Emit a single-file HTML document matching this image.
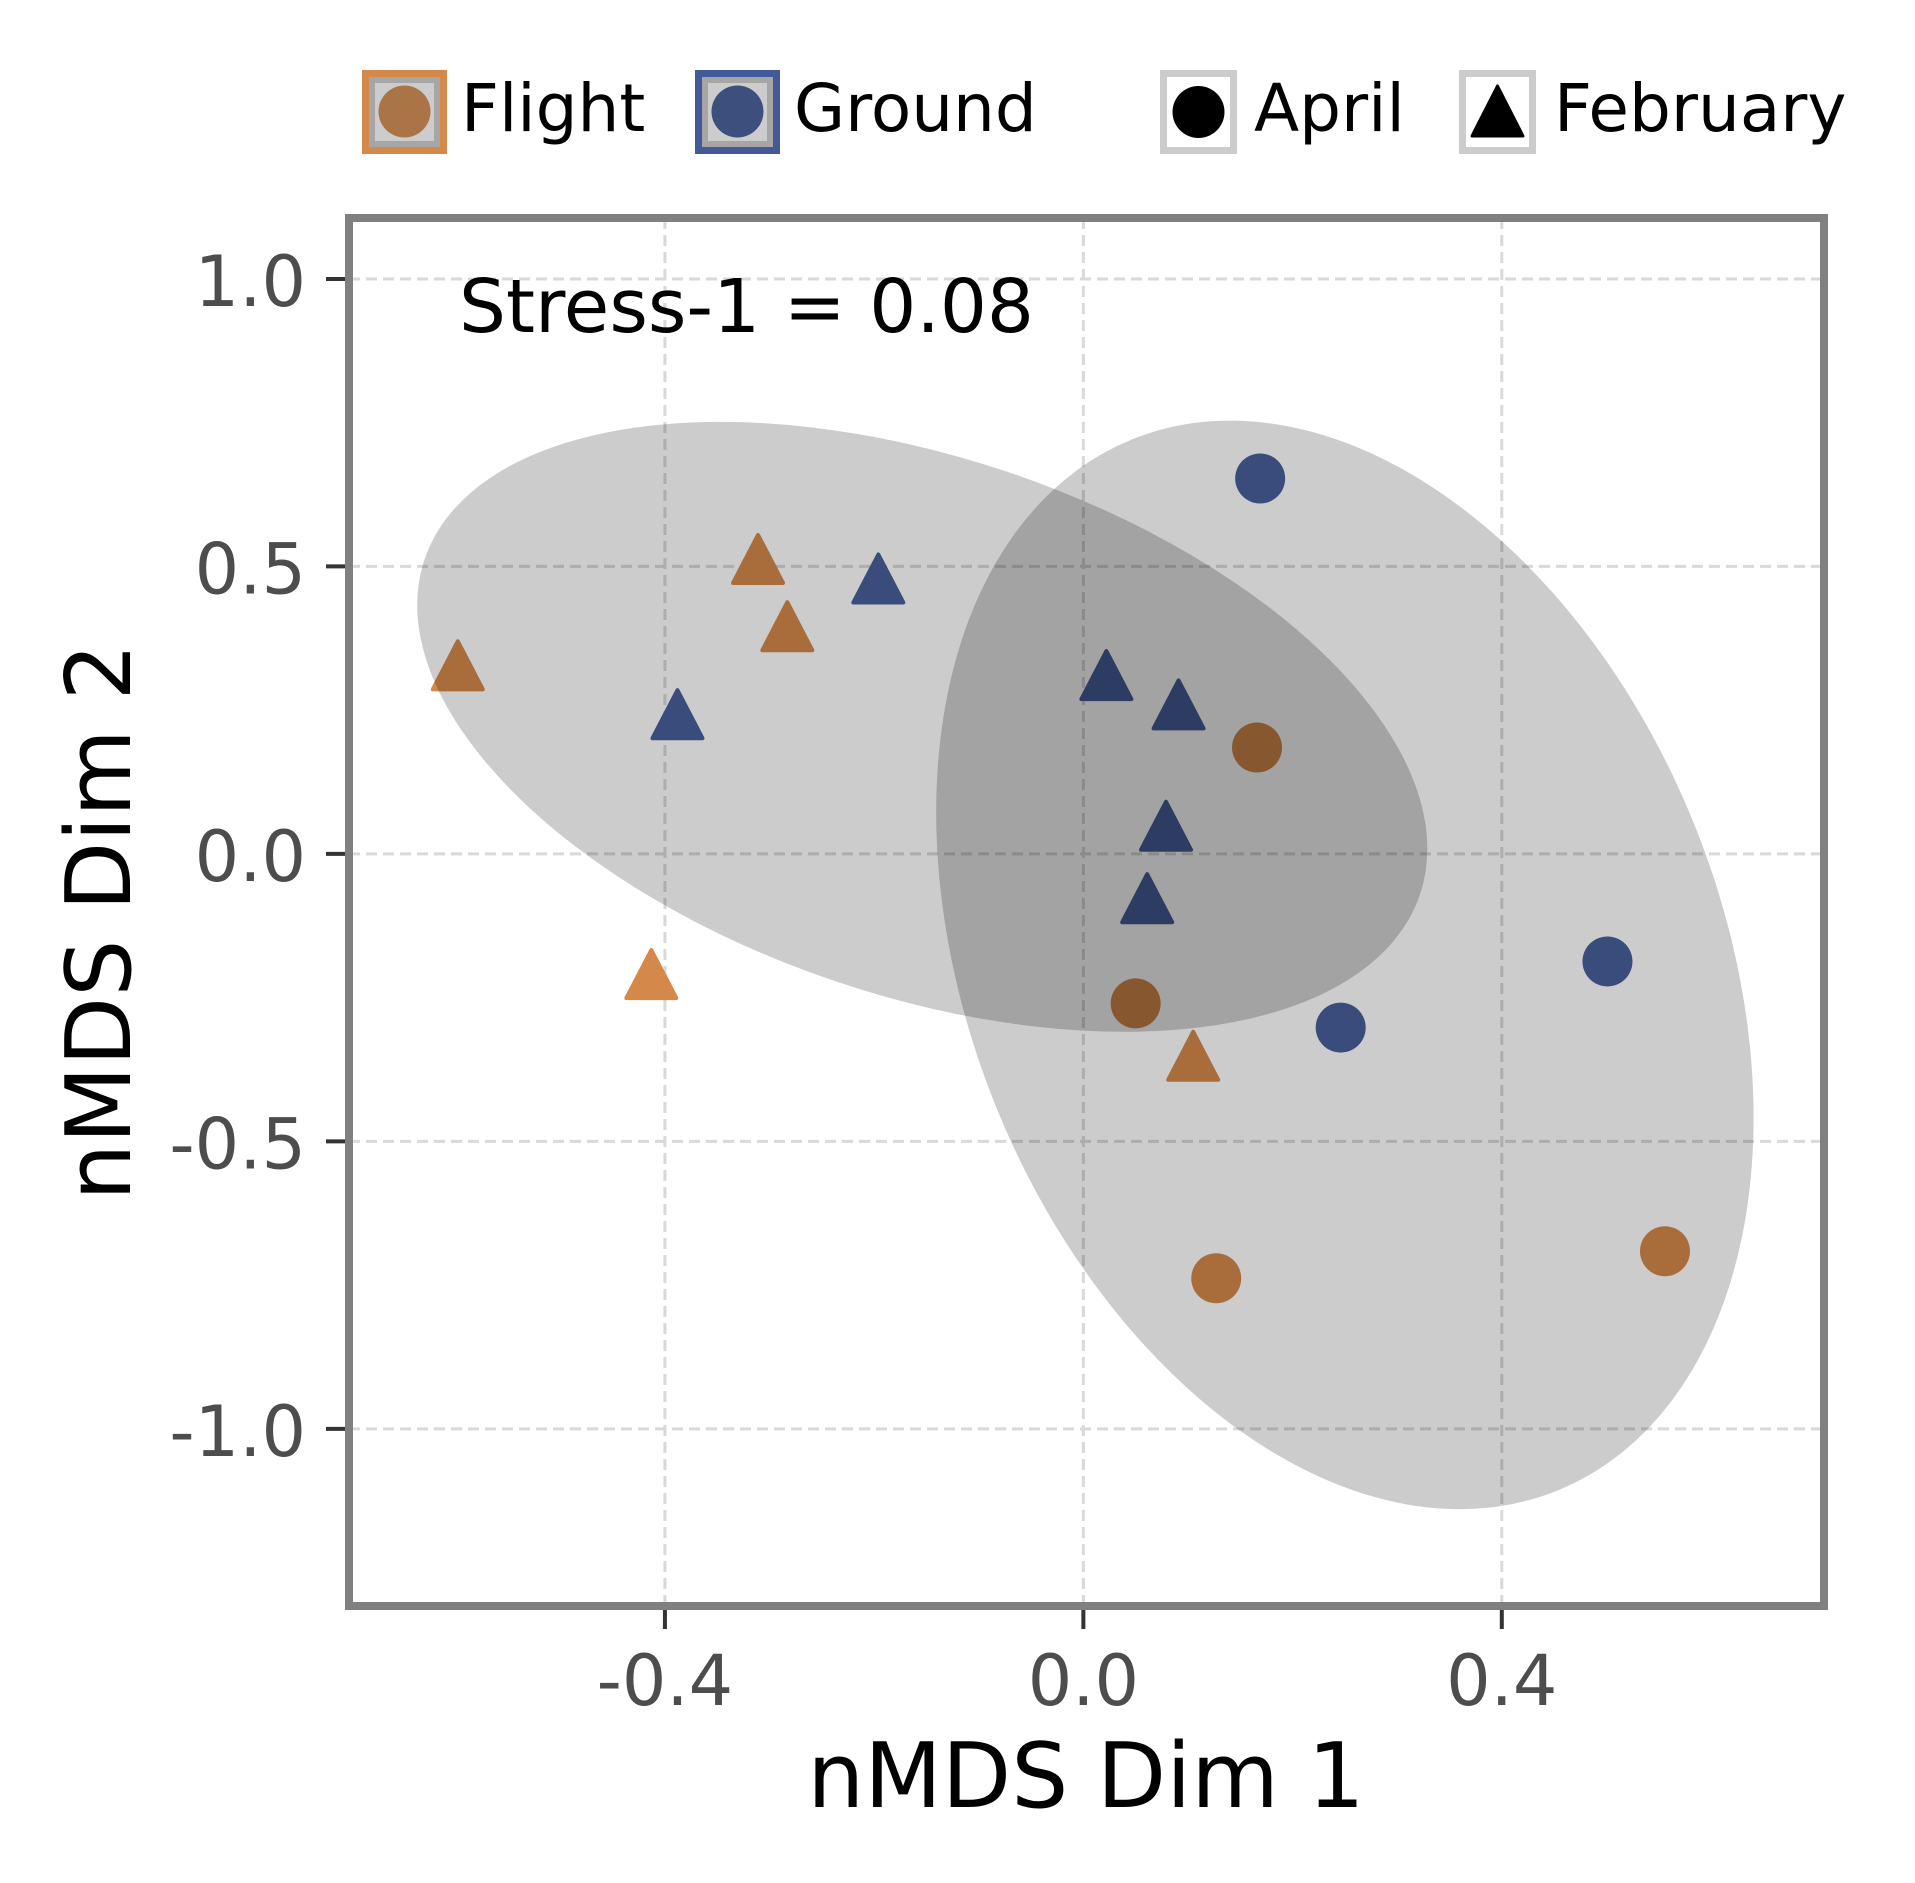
<!DOCTYPE html>
<html><head><meta charset="utf-8">
<style>
html,body{margin:0;padding:0;background:#fff;}
svg{display:block;font-family:"DejaVu Sans","Liberation Sans",sans-serif;}
</style></head>
<body>
<svg id="chart" width="1915" height="1883" viewBox="0 0 1915 1883" xmlns="http://www.w3.org/2000/svg">
  <rect x="0" y="0" width="1915" height="1883" fill="#fff"/>
  <g id="legend">
    <g>
      <rect x="365.5" y="73.5" width="78" height="77" fill="#a6a6a6" stroke="#d4894a" stroke-width="7"/>
      <rect x="375" y="83" width="59" height="58" fill="#cccccc"/>
      <circle cx="404.5" cy="111.5" r="26" fill="#ab7446"/>
      <text x="461" y="131" font-size="66" fill="#000">Flight</text>
    </g>
    <g>
      <rect x="698.5" y="73.5" width="78" height="77" fill="#a6a6a6" stroke="#435a98" stroke-width="7"/>
      <rect x="708" y="83" width="59" height="58" fill="#cccccc"/>
      <circle cx="737.5" cy="111.5" r="26" fill="#3d4f7d"/>
      <text x="794" y="131" font-size="66" fill="#000">Ground</text>
    </g>
    <g>
      <rect x="1163.5" y="73.5" width="70" height="77" fill="#fff" stroke="#cccccc" stroke-width="7"/>
      <circle cx="1198.5" cy="112" r="26" fill="#000"/>
      <text x="1254" y="131" font-size="66" fill="#000">April</text>
    </g>
    <g>
      <rect x="1462.5" y="73.5" width="70" height="77" fill="#fff" stroke="#cccccc" stroke-width="7"/>
      <path d="M1497.5 86 L1523 136 L1472 136 Z" fill="#000" stroke="#000" stroke-width="3" stroke-linejoin="round"/>
      <text x="1554" y="131" font-size="66" fill="#000">February</text>
    </g>
  </g>
  <g id="grid"></g>
  <g id="points"></g>
  <g id="ellipses"></g>
  <g id="axes"></g>
  <text x="459" y="332" font-size="74" fill="#000">Stress-1 = 0.08</text>
  <text x="1086" y="1807" font-size="90" text-anchor="middle" fill="#000">nMDS Dim 1</text>
  <text x="0" y="0" font-size="90" text-anchor="middle" fill="#000" transform="translate(130,922) rotate(-90)">nMDS Dim 2</text>
</svg>
<script>
const xTicks = [-0.4, 0.0, 0.4];
const xTickLabels = ["-0.4", "0.0", "0.4"];
const yTicks = [1.0, 0.5, 0.0, -0.5, -1.0];
const yTickLabels = ["1.0", "0.5", "0.0", "-0.5", "-1.0"];
const xDomain = [-0.702, 0.708];
const yDomain = [-1.308, 1.106];

const pointX = [-0.598, -0.311, -0.283, -0.413, 0.105,
                -0.388, -0.196, 0.022, 0.091, 0.079, 0.061,
                0.169, 0.501, 0.246,
                0.166, 0.050, 0.127, 0.556];
const pointY = [0.328, 0.513, 0.396, -0.209, -0.351,
                0.243, 0.479, 0.311, 0.260, 0.049, -0.077,
                0.653, -0.187, -0.302,
                0.185, -0.260, -0.738, -0.691];
const pointGroup = ["Flight","Flight","Flight","Flight","Flight",
                    "Ground","Ground","Ground","Ground","Ground","Ground",
                    "Ground","Ground","Ground",
                    "Flight","Flight","Flight","Flight"];
const pointMonth = ["February","February","February","February","February",
                    "February","February","February","February","February","February",
                    "April","April","April",
                    "April","April","April","April"];

const ellipseGroup = ["Flight", "Ground"];
const ellipseCX = [-0.154, 0.250];
const ellipseCY = [0.221, -0.193];
const ellipseMajor = [0.502, 0.542];
const ellipseMinor = [0.257, 0.360];
const ellipseAngle = [18.6, 68];

const PL = 349, PR = 1824, PT = 218, PB = 1606;
const xScale = v => PL + (v - xDomain[0]) / (xDomain[1] - xDomain[0]) * (PR - PL);
const yScale = v => PB - (v - yDomain[0]) / (yDomain[1] - yDomain[0]) * (PB - PT);
const pxPerX = (PR - PL) / (xDomain[1] - xDomain[0]);
const colors = {Flight: "#d4894a", Ground: "#48609c"};
const NS = "http://www.w3.org/2000/svg";
function mk(tag, attrs, parent) {
  const e = document.createElementNS(NS, tag);
  for (const k in attrs) e.setAttribute(k, attrs[k]);
  parent.appendChild(e);
  return e;
}
const grid = document.getElementById('grid');
const axes = document.getElementById('axes');
const pts = document.getElementById('points');
const ell = document.getElementById('ellipses');

xTicks.forEach((t, i) => {
  const x = xScale(t);
  const g = mk('line', {x1: x, x2: x, y1: PT, y2: PB, stroke: '#d9d9d9', 'stroke-width': 3, 'stroke-dasharray': '11 6'}, grid);
  
  
  const tk = mk('line', {x1: x, x2: x, y1: PB, y2: PB + 23, stroke: '#333', 'stroke-width': 4}, axes);
  
  
  const lb = mk('text', {x: x, y: 1705, 'font-size': 70, 'text-anchor': 'middle', fill: '#4d4d4d'}, axes);
  lb.textContent = xTickLabels[i];
  
  
});
yTicks.forEach((t, i) => {
  const y = yScale(t);
  const g = mk('line', {x1: PL, x2: PR, y1: y, y2: y, stroke: '#d9d9d9', 'stroke-width': 3, 'stroke-dasharray': '11 6'}, grid);
  
  
  const tk = mk('line', {x1: PL - 23, x2: PL, y1: y, y2: y, stroke: '#333', 'stroke-width': 4}, axes);
  
  
  const lb = mk('text', {x: 306, y: y + 27, 'font-size': 70, 'text-anchor': 'end', fill: '#4d4d4d'}, axes);
  lb.textContent = yTickLabels[i];
  
  
});

pointX.forEach((v, i) => {
  const cx = xScale(v), cy = yScale(pointY[i]);
  const c = colors[pointGroup[i]];
  let e;
  if (pointMonth[i] === 'April') {
    e = mk('circle', {cx: cx, cy: cy, r: 25, fill: c}, pts);
  } else {
    const h = 24, w = 25;
    e = mk('path', {d: `M${cx} ${cy - h} L${cx + w} ${cy + h} L${cx - w} ${cy + h} Z`, fill: c, stroke: c, 'stroke-width': 4, 'stroke-linejoin': 'round'}, pts);
  }
  
  
});

ellipseGroup.forEach((g, i) => {
  const cx = xScale(ellipseCX[i]), cy = yScale(ellipseCY[i]);
  const e = mk('ellipse', {cx: cx, cy: cy, rx: ellipseMajor[i] * pxPerX, ry: ellipseMinor[i] * pxPerX,
    transform: `rotate(${ellipseAngle[i]} ${cx} ${cy})`, fill: '#000', 'fill-opacity': 0.2}, ell);
  
  
});

const fr = mk('rect', {x: PL, y: PT, width: PR - PL, height: PB - PT, fill: 'none', stroke: '#808080', 'stroke-width': 8}, axes);


</script>
</body></html>
